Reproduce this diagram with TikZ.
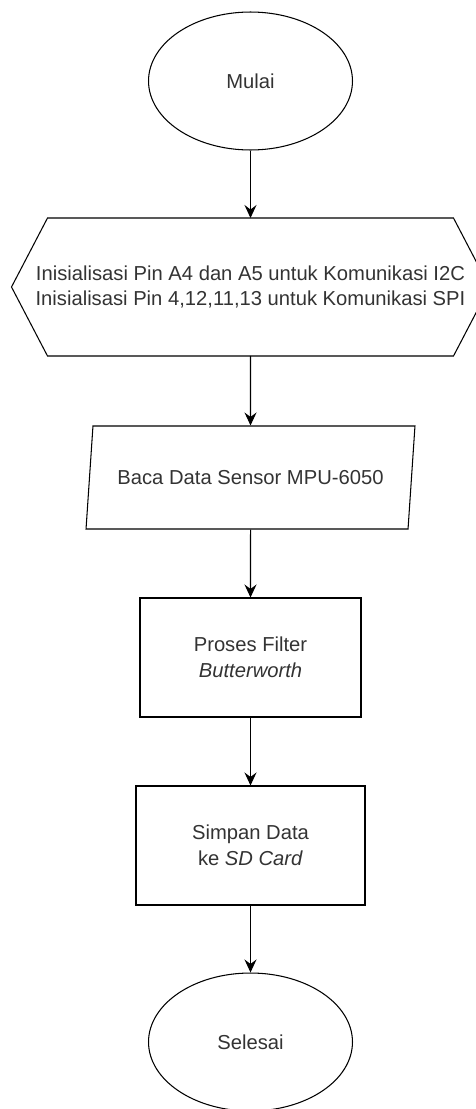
\documentclass[tikz,border=0pt]{standalone}
\usepackage{fontspec}
\setsansfont{Liberation Sans}
\usetikzlibrary{arrows.meta, shapes.geometric}
\definecolor{cline}{HTML}{000000}
\definecolor{ctext}{HTML}{333333}
\tikzset{
  every picture/.style={font=\sffamily, line width=0.6pt},
  base/.style={draw=cline, text=ctext, align=center, inner sep=2pt, font=\sffamily\fontsize{11.5}{14.5}\selectfont},
  terminal/.style={base, ellipse, minimum width=4.08cm, minimum height=2.76cm},
  prep/.style={base, draw=none, rectangle, minimum height=2.76cm},
  io/.style={base, trapezium, trapezium left angle=72, trapezium right angle=108, trapezium stretches body, minimum width=6.58cm, minimum height=2.06cm},
  process/.style={base, rectangle, minimum height=2.38cm},
  arrow/.style={-{Stealth[length=2.6mm, width=2.4mm, inset=0.9mm]}, draw=cline, line width=0.6pt},
}

\begin{document}
\begin{tikzpicture}[x=0.02cm, y=-0.02cm]
  \useasboundingbox (0,0) rectangle (476,1109);

  % start and end
  \node[terminal] (mulai) at (250.5,81) {Mulai};
  \node[terminal] (selesai) at (250.5,1042) {Selesai};

  % steps
  \node[prep] (init) at (250.5,287) {Inisialisasi Pin A4 dan A5 untuk Komunikasi I2C\\Inisialisasi Pin 4,12,11,13 untuk Komunikasi SPI};
  \draw[cline] ([shift={(-203,-69)}]init.center) -- ([shift={(203,-69)}]init.center) -- ([shift={(239,0)}]init.center)
    -- ([shift={(203,69)}]init.center) -- ([shift={(-203,69)}]init.center) -- ([shift={(-239,0)}]init.center) -- cycle;
  \node[io] (baca) at (250.5,477.5) {Baca Data Sensor MPU-6050};
  \node[process, minimum width=4.42cm] (filter) at (250.5,657.5) {Proses Filter\\\textit{Butterworth}};
  \node[process, minimum width=4.58cm] (simpan) at (250.5,845.5) {Simpan Data\\ke \textit{SD Card}};

  \draw[arrow] (mulai) -- ([yshift=1.38cm]init.center);
  \draw[arrow] ([yshift=-1.38cm]init.center) -- (baca);
  \foreach \p/\q in {baca/filter, filter/simpan, simpan/selesai}
    \draw[arrow] (\p) -- (\q);
\end{tikzpicture}
\end{document}
